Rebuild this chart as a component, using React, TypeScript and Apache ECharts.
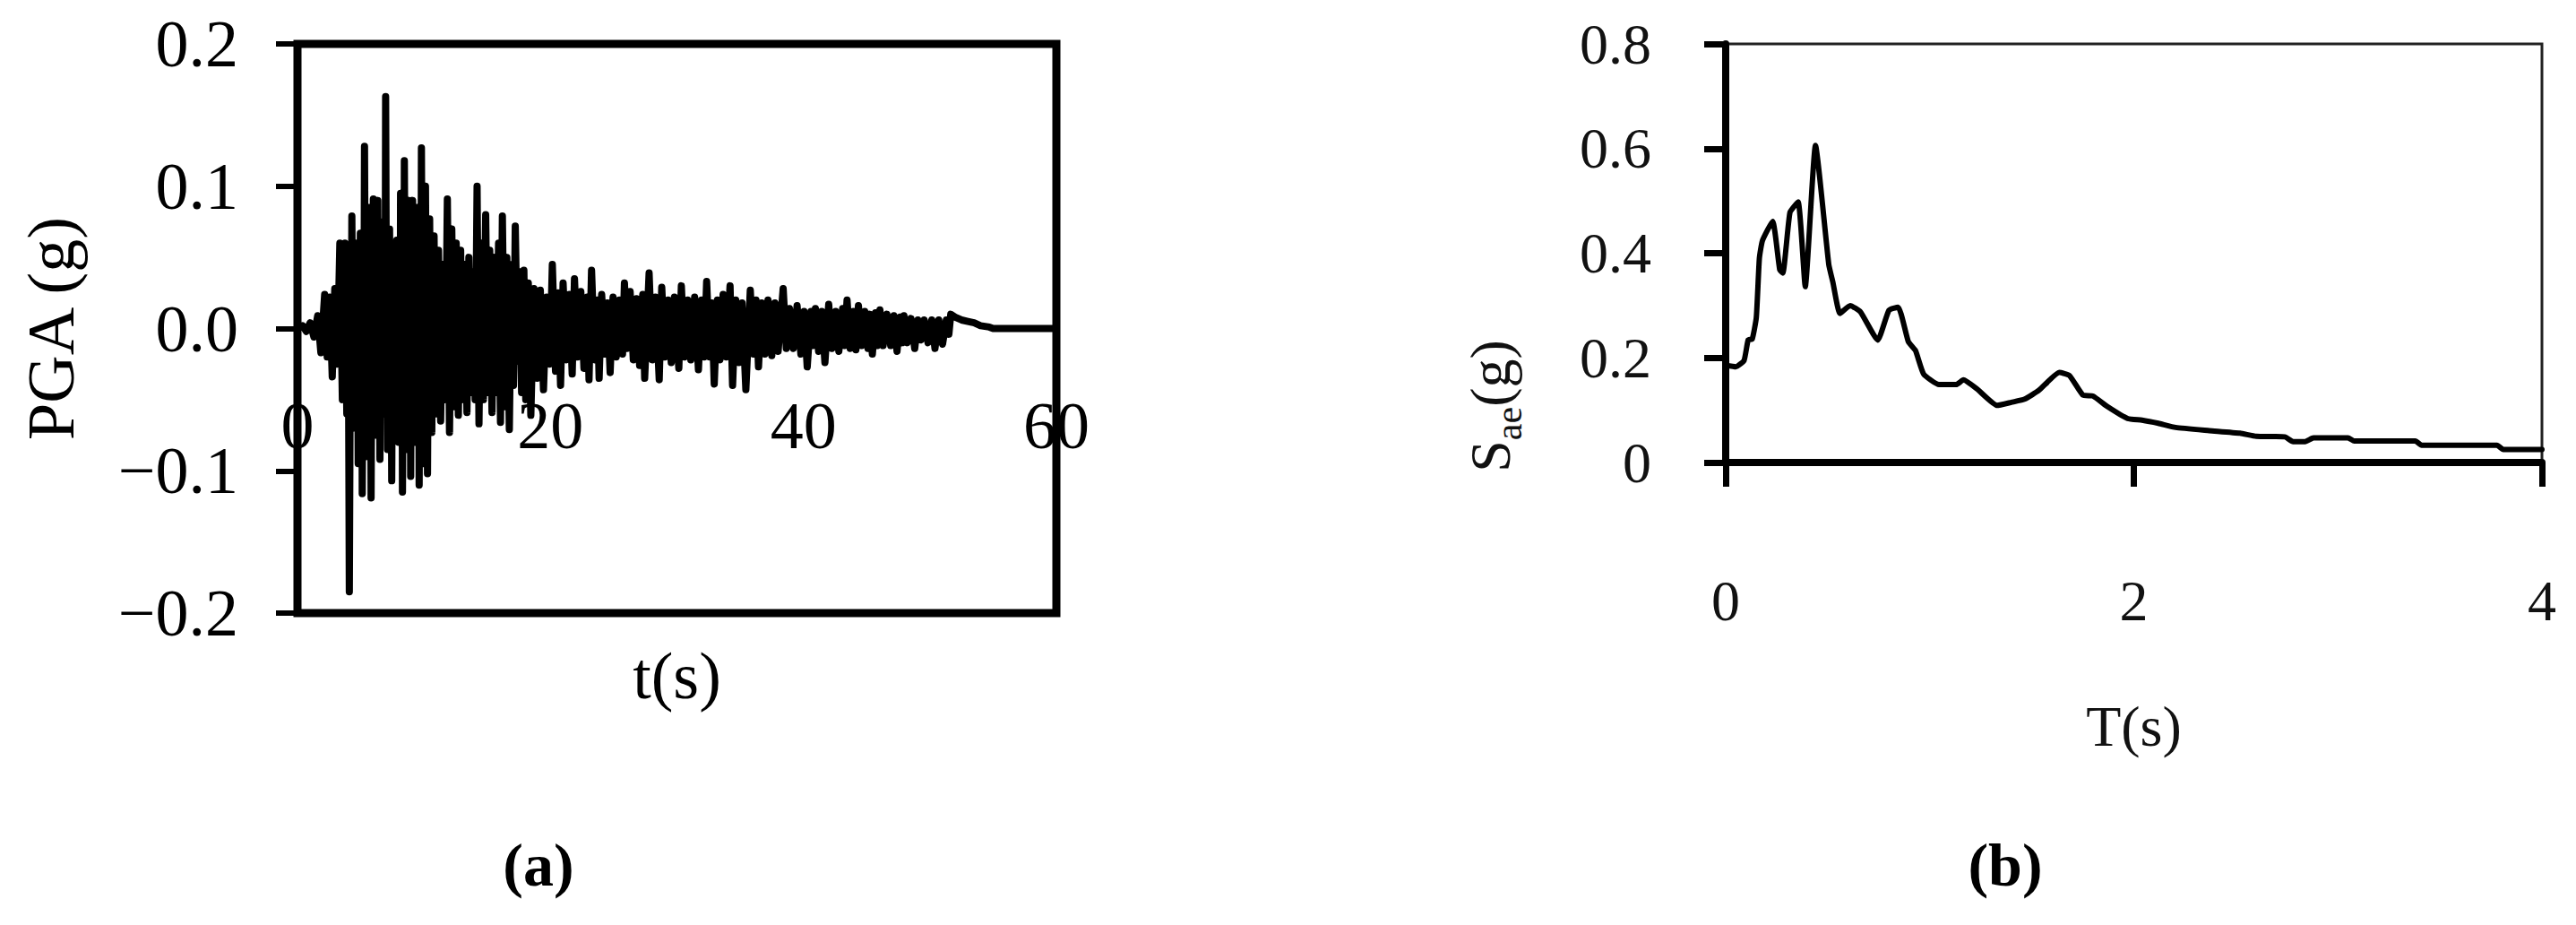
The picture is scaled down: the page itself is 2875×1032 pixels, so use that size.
import React, { useEffect, useRef } from "react";
import * as echarts from "echarts";

// (a) ground acceleration record: [time (s), acceleration (g)]
const accelPoints: [number, number][] = [
  [0.0, 0.0], [0.4, 0.002], [0.7, -0.002], [1.0, 0.004], [1.3, -0.006], [1.6, 0.009],
  [1.85, -0.017], [2.15, 0.024], [2.35, -0.02], [2.55, 0.022], [2.75, -0.034], [2.95, 0.028],
  [3.15, -0.025], [3.35, 0.06], [3.55, -0.05], [3.75, 0.06], [3.9, -0.06], [4.0, 0.058],
  [4.1, -0.185], [4.2, 0.03], [4.25, -0.03], [4.3, 0.079], [4.38, -0.03], [4.42, 0.02],
  [4.45, -0.07], [4.52, 0.02], [4.56, -0.02], [4.6, 0.06], [4.7, -0.03], [4.74, 0.03],
  [4.8, -0.095], [4.88, 0.03], [4.92, -0.02], [4.97, 0.067], [5.05, -0.03], [5.08, 0.03],
  [5.12, -0.116], [5.2, 0.04], [5.25, -0.02], [5.3, 0.128], [5.38, -0.03], [5.42, 0.03],
  [5.48, -0.09], [5.55, 0.03], [5.6, -0.03], [5.65, 0.085], [5.72, -0.03], [5.77, 0.03],
  [5.82, -0.119], [5.9, 0.04], [5.95, -0.03], [6.0, 0.091], [6.08, -0.03], [6.12, 0.03],
  [6.18, -0.075], [6.25, 0.03], [6.3, -0.03], [6.35, 0.09], [6.42, -0.04], [6.47, 0.03],
  [6.52, -0.092], [6.6, 0.035], [6.65, -0.03], [6.7, 0.075], [6.82, -0.06], [6.9, 0.03],
  [6.93, -0.02], [6.97, 0.163], [7.05, -0.03], [7.08, 0.03], [7.12, -0.085], [7.2, 0.03],
  [7.24, -0.02], [7.28, 0.07], [7.36, -0.03], [7.4, 0.03], [7.45, -0.107], [7.53, 0.03],
  [7.58, -0.03], [7.62, 0.055], [7.72, -0.06], [7.85, 0.062], [7.92, -0.03], [7.96, 0.03],
  [8.0, -0.08], [8.08, 0.04], [8.12, -0.03], [8.15, 0.095], [8.22, -0.03], [8.26, 0.03],
  [8.3, -0.115], [8.38, 0.04], [8.42, -0.03], [8.45, 0.118], [8.53, -0.03], [8.57, 0.03],
  [8.62, -0.085], [8.7, 0.03], [8.75, -0.03], [8.8, 0.09], [8.88, -0.03], [8.92, 0.03],
  [8.95, -0.104], [9.02, 0.03], [9.06, -0.03], [9.1, 0.09], [9.18, -0.03], [9.23, 0.03],
  [9.28, -0.08], [9.36, 0.03], [9.4, -0.03], [9.45, 0.085], [9.53, -0.03], [9.57, 0.03],
  [9.62, -0.11], [9.7, 0.04], [9.75, -0.03], [9.8, 0.127], [9.87, -0.03], [9.91, 0.03],
  [9.95, -0.095], [10.03, 0.03], [10.07, -0.03], [10.12, 0.1], [10.2, -0.03], [10.24, 0.03],
  [10.28, -0.102], [10.36, 0.03], [10.4, -0.02], [10.45, 0.077], [10.53, -0.03], [10.57, 0.02],
  [10.62, -0.073], [10.7, 0.02], [10.75, -0.02], [10.8, 0.065], [10.88, -0.02], [10.93, 0.02],
  [10.98, -0.06], [11.06, 0.02], [11.1, -0.02], [11.15, 0.055], [11.32, -0.065], [11.5, 0.045],
  [11.68, -0.05], [11.85, 0.091], [12.02, -0.073], [12.2, 0.07], [12.38, -0.055], [12.55, 0.06],
  [12.72, -0.061], [12.9, 0.055], [13.05, -0.05], [13.22, 0.045], [13.4, -0.059], [13.55, 0.05],
  [13.72, -0.045], [13.9, 0.04], [14.05, -0.05], [14.2, 0.1], [14.35, -0.067], [14.52, 0.06],
  [14.7, -0.05], [14.88, 0.08], [15.05, -0.045], [15.2, 0.055], [15.38, -0.059], [15.55, 0.05],
  [15.72, -0.045], [15.9, 0.06], [16.05, -0.066], [16.2, 0.079], [16.38, -0.055], [16.55, 0.05],
  [16.75, -0.071], [16.92, 0.045], [17.08, -0.04], [17.22, 0.072], [17.4, -0.023], [17.55, 0.04],
  [17.72, -0.045], [17.9, 0.041], [18.05, -0.05], [18.25, 0.032], [18.45, -0.061], [18.7, 0.028],
  [18.95, -0.035], [19.2, 0.027], [19.45, -0.043], [19.7, 0.022], [19.95, -0.025], [20.15, 0.045],
  [20.4, -0.03], [20.6, 0.025], [20.8, -0.04], [21.0, 0.032], [21.25, -0.022], [21.5, 0.024],
  [21.72, -0.032], [21.9, 0.035], [22.15, -0.02], [22.4, 0.026], [22.65, -0.028], [22.9, 0.022],
  [23.05, -0.036], [23.25, 0.041], [23.5, -0.022], [23.7, 0.02], [23.85, -0.035], [24.05, 0.024],
  [24.3, -0.018], [24.5, 0.018], [24.72, -0.031], [24.95, 0.022], [25.2, -0.02], [25.45, 0.02],
  [25.7, -0.018], [25.85, 0.032], [26.05, -0.014], [26.3, 0.026], [26.55, -0.022], [26.8, 0.021],
  [27.05, -0.026], [27.3, 0.024], [27.45, -0.035], [27.8, 0.039], [28.05, -0.022], [28.3, 0.022],
  [28.6, -0.036], [28.8, 0.029], [29.05, -0.02], [29.3, 0.02], [29.55, -0.024], [29.8, 0.022],
  [30.15, -0.028], [30.35, 0.03], [30.6, -0.02], [30.85, 0.02], [31.1, -0.022], [31.4, 0.022],
  [31.7, -0.029], [31.95, 0.02], [32.15, -0.02], [32.35, 0.033], [32.6, -0.02], [32.75, 0.018],
  [32.95, -0.039], [33.2, 0.02], [33.4, -0.022], [33.65, 0.024], [33.9, -0.02], [34.2, 0.03],
  [34.4, -0.04], [34.65, 0.02], [34.9, -0.024], [35.15, 0.018], [35.45, -0.043], [35.8, 0.027],
  [36.05, -0.018], [36.25, 0.02], [36.45, -0.027], [36.7, 0.018], [36.95, -0.018], [37.2, 0.02],
  [37.5, -0.019], [37.75, 0.018], [38.0, -0.016], [38.4, 0.028], [38.65, -0.014], [38.9, 0.014],
  [39.2, -0.014], [39.5, 0.016], [39.8, -0.018], [40.05, 0.012], [40.3, -0.027], [40.6, 0.012],
  [40.75, -0.012], [40.95, 0.014], [41.2, -0.016], [41.45, 0.012], [41.7, -0.024], [42.0, 0.017],
  [42.25, -0.014], [42.55, 0.012], [42.8, -0.016], [43.1, 0.014], [43.25, -0.012], [43.45, 0.02],
  [43.7, -0.014], [43.95, 0.012], [44.15, -0.015], [44.35, 0.016], [44.6, -0.012], [44.85, 0.012],
  [45.1, -0.014], [45.25, 0.01], [45.45, -0.018], [45.7, 0.011], [45.85, -0.012], [46.05, 0.013],
  [46.3, -0.012], [46.6, 0.01], [46.9, -0.012], [47.15, 0.009], [47.4, -0.016], [47.65, 0.008],
  [47.8, -0.01], [47.95, 0.009], [48.2, -0.01], [48.5, 0.007], [48.8, -0.014], [49.05, 0.006],
  [49.3, -0.008], [49.55, 0.006], [49.85, -0.01], [50.15, 0.006], [50.4, -0.014], [50.7, 0.006],
  [51.0, -0.011], [51.3, 0.006], [51.5, -0.004], [51.65, 0.01], [52.0, 0.008], [52.5, 0.006],
  [53.0, 0.005], [53.5, 0.004], [54.0, 0.002], [54.7, 0.001], [55.0, 0.0], [60.0, 0.0],
];

// (b) elastic response spectrum: [period T (s), Sae (g)]
const spectrumPoints: [number, number][] = [
  [0.0, 0.186], [0.05, 0.183], [0.09, 0.195], [0.11, 0.234], [0.13, 0.236], [0.15, 0.277],
  [0.165, 0.39], [0.18, 0.424], [0.23, 0.461], [0.265, 0.368], [0.28, 0.362], [0.315, 0.478],
  [0.355, 0.498], [0.39, 0.336], [0.44, 0.606], [0.505, 0.379], [0.525, 0.345], [0.56, 0.285],
  [0.61, 0.3], [0.66, 0.288], [0.745, 0.234], [0.8, 0.291], [0.845, 0.297], [0.895, 0.231],
  [0.93, 0.214], [0.97, 0.169], [1.045, 0.149], [1.13, 0.149], [1.165, 0.158], [1.23, 0.141],
  [1.33, 0.109], [1.4, 0.115], [1.465, 0.121], [1.535, 0.138], [1.635, 0.172], [1.685, 0.166],
  [1.75, 0.129], [1.8, 0.127], [1.87, 0.107], [1.97, 0.084], [2.04, 0.081], [2.12, 0.075],
  [2.205, 0.067], [2.37, 0.061], [2.52, 0.056], [2.6, 0.05], [2.74, 0.049], [2.78, 0.04],
  [2.84, 0.04], [2.88, 0.047], [3.05, 0.047], [3.08, 0.041], [3.38, 0.041], [3.41, 0.033],
  [3.78, 0.033], [3.81, 0.025], [4.0, 0.025],
];

const FONT = "Liberation Serif";

const fmtA = (v: number) => {
  if (Math.abs(v) < 1e-9) return "0.0";
  const s = Math.abs(v).toFixed(1);
  return v < 0 ? "\u2212" + s : s;
};
const fmtB = (v: number) => (Math.abs(v) < 1e-9 ? "0" : v.toFixed(1));

export default function App() {
  const ref = useRef<HTMLDivElement>(null);
  useEffect(() => {
    if (!ref.current) return;
    const chart = echarts.init(ref.current, undefined, { renderer: "svg" });
    const option: any = {
      animation: false,
      backgroundColor: "#ffffff",
      grid: [
        {
          left: 332, top: 49, width: 847, height: 635,
          show: true, borderColor: "#000", borderWidth: 9,
          containLabel: false, outerBoundsMode: "none",
        },
        {
          left: 1926, top: 49, width: 911, height: 467,
          show: true, borderColor: "#222", borderWidth: 3,
          containLabel: false, outerBoundsMode: "none",
        },
      ],
      xAxis: [
        {
          gridIndex: 0, type: "value", min: 0, max: 60, interval: 20,
          position: "bottom", offset: -317.5,
          name: "t(s)", nameLocation: "middle", nameGap: 350,
          nameTextStyle: { fontFamily: FONT, fontSize: 74, color: "#000" },
          axisLine: { show: false, onZero: false },
          axisTick: { show: false },
          splitLine: { show: false },
          axisLabel: { margin: 71, fontFamily: FONT, fontSize: 74, color: "#000" },
        },
        {
          gridIndex: 1, type: "value", min: 0, max: 4, interval: 2,
          name: "T(s)", nameLocation: "middle", nameGap: 262,
          nameTextStyle: { fontFamily: FONT, fontSize: 64, color: "#111" },
          axisLine: { show: true, onZero: false, lineStyle: { color: "#000", width: 8 } },
          axisTick: { show: true, inside: false, length: 27, lineStyle: { color: "#000", width: 7 } },
          splitLine: { show: false },
          axisLabel: { margin: 122, fontFamily: FONT, fontSize: 64, color: "#111" },
        },
      ],
      yAxis: [
        {
          gridIndex: 0, type: "value", min: -0.2, max: 0.2, interval: 0.1,
          name: "PGA (g)", nameLocation: "middle", nameGap: 238,
          nameTextStyle: { fontFamily: FONT, fontSize: 74, color: "#000" },
          axisLine: { show: false, onZero: false },
          axisTick: { show: true, inside: false, length: 24, lineStyle: { color: "#000", width: 6 } },
          splitLine: { show: false },
          axisLabel: { margin: 66, fontFamily: FONT, fontSize: 74, color: "#000", formatter: fmtA },
        },
        {
          gridIndex: 1, type: "value", min: 0, max: 0.8, interval: 0.2,
          axisLine: { show: true, onZero: false, lineStyle: { color: "#000", width: 8 } },
          axisTick: { show: true, inside: false, length: 24, lineStyle: { color: "#000", width: 7 } },
          splitLine: { show: false },
          axisLabel: { margin: 83, fontFamily: FONT, fontSize: 64, color: "#111", formatter: fmtB },
        },
      ],
      series: [
        {
          type: "line", xAxisIndex: 0, yAxisIndex: 0, data: accelPoints,
          showSymbol: false, symbol: "none",
          lineStyle: { color: "#000", width: 8, join: "round", cap: "round" },
          z: 1,
        },
        {
          type: "line", xAxisIndex: 1, yAxisIndex: 1, data: spectrumPoints,
          showSymbol: false, symbol: "none", smooth: 0.15,
          lineStyle: { color: "#000", width: 6, join: "round", cap: "round" },
        },
      ],
      graphic: [
        {
          type: "text", x: 1668, y: 453, rotation: Math.PI / 2,
          style: {
            text: "{m|S}{s|ae}{m|(g)}",
            align: "center", verticalAlign: "middle",
            fill: "#111",
            rich: {
              m: { fontFamily: FONT, fontSize: 64, fill: "#111", color: "#111", verticalAlign: "bottom", padding: [0, 0, 10, 0] },
              s: { fontFamily: FONT, fontSize: 42, fill: "#111", color: "#111", verticalAlign: "bottom" },
            },
          },
        },
        {
          type: "text", x: 601, y: 965,
          style: {
            text: "(a)", font: `bold 68px "${FONT}"`, fill: "#000",
            align: "center", verticalAlign: "middle",
          },
        },
        {
          type: "text", x: 2238, y: 965,
          style: {
            text: "(b)", font: `bold 68px "${FONT}"`, fill: "#000",
            align: "center", verticalAlign: "middle",
          },
        },
      ],
    };
    chart.setOption(option);
    return () => chart.dispose();
  }, []);
  return (
    <div
      ref={ref}
      style={{ position: "fixed", left: 0, top: 0, width: 2875, height: 1032, background: "#fff" }}
    />
  );
}
